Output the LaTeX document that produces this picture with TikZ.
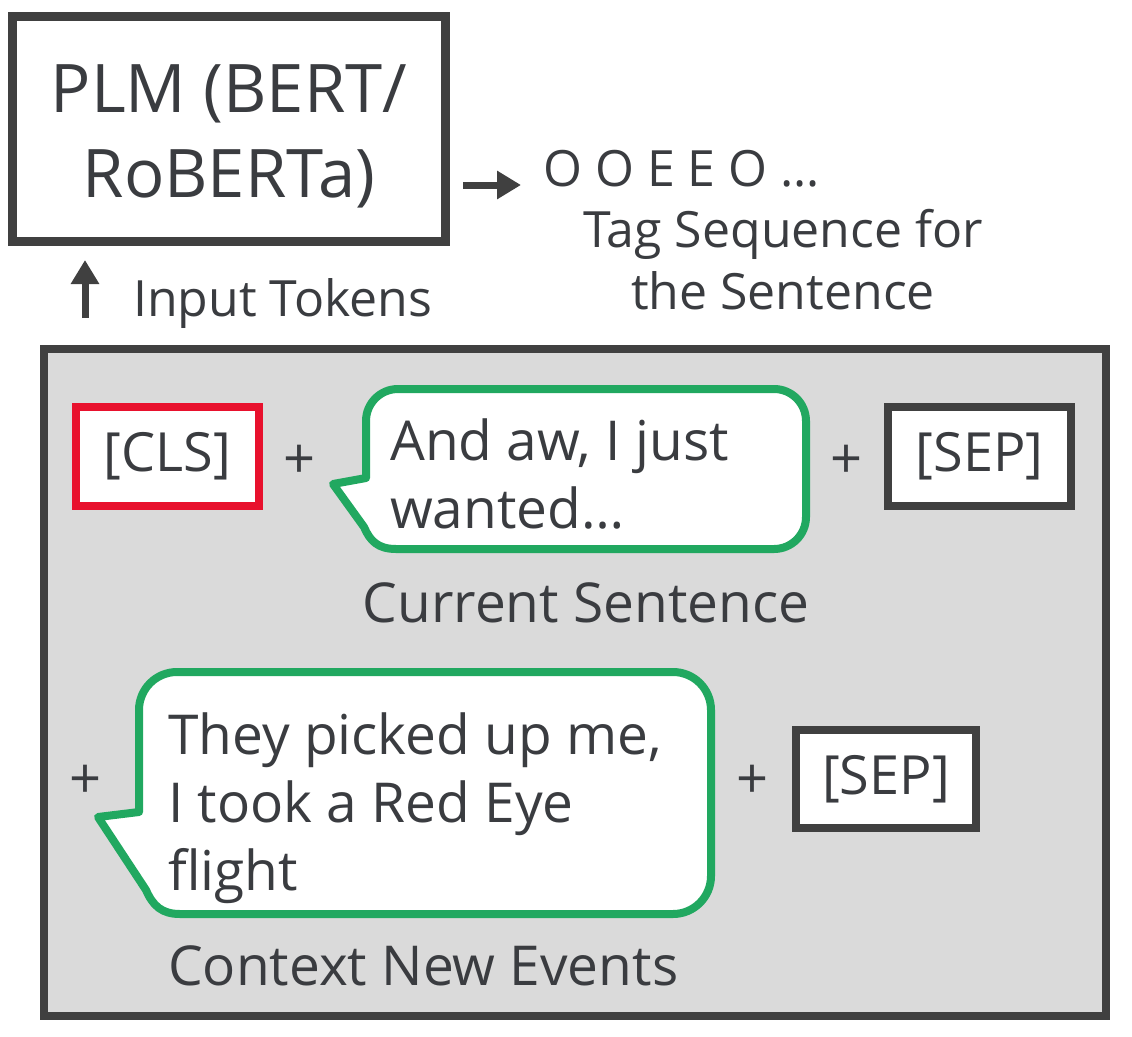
\documentclass[tikz,border=0pt]{standalone}
\usepackage{fontspec}
\setmainfont{Open Sans}
\usetikzlibrary{arrows.meta}
\definecolor{txt}{RGB}{58,60,64}
\definecolor{frame}{RGB}{64,64,64}
\definecolor{panel}{RGB}{218,218,218}
\definecolor{clsred}{RGB}{232,17,45}
\definecolor{bubgreen}{RGB}{33,168,96}
\begin{document}
\begin{tikzpicture}[x=1pt,y=-1pt,
  boxnode/.style={draw=frame, line width=8.5pt, fill=white, inner sep=0pt, text=txt},
  tokbox/.style={draw=frame, line width=8pt, fill=white, inner sep=0pt, text=txt,
    font=\fontsize{54}{64}\selectfont},
  bubble/.style={draw=bubgreen, fill=white, line width=8pt, line join=round},
  lbl/.style={text=txt, inner sep=0pt},
  fa/.style={font=\fontsize{50}{60}\selectfont},
  fp/.style={font=\fontsize{56}{66}\selectfont},
  fb/.style={font=\fontsize{55}{66}\selectfont},
  fc/.style={font=\fontsize{67}{80}\selectfont},
  thickarrow/.style={draw=frame, line width=7pt, -{Triangle[width=27pt,length=24pt]}}
]
\useasboundingbox (0,0) rectangle (1132,1036);
\fill[white] (0,0) rectangle (1132,1036);

% PLM box
\node[boxnode, minimum width=433pt, minimum height=225pt] (plm) at (229,129) {};
\node[lbl, fc, anchor=base] (plm1) at (229,112) {PLM (BERT/};
\node[lbl, fc, anchor=base] (plm2) at (229,197) {RoBERTa)};

% output arrow and tags
\coordinate (outS) at (463,185);
\coordinate (outE) at (521,185);
\draw[thickarrow] (outS) -- (outE);
\node[lbl, fa, anchor=base west] (tags) at (543,186) {O O E E O …};
\node[lbl, fa, anchor=base] (tag1) at (783,247) {Tag Sequence for};
\node[lbl, fa, anchor=base] (tag2) at (783,309) {the Sentence};

% input arrow
\coordinate (inS) at (85,318);
\coordinate (inE) at (85,260);
\draw[thickarrow] (inS) -- (inE);
\node[lbl, fa, anchor=base west] (inp) at (133,316) {Input Tokens};

% panel
\node[draw=frame, line width=8pt, fill=panel, minimum width=1062pt, minimum height=667pt, inner sep=0pt] (panel) at (575,682.5) {};

% row 1
\node[tokbox, draw=clsred, minimum width=183pt, minimum height=99pt] (cls) at (167.5,456.5) {[CLS]};
\node[lbl, fp] (p1) at (300,462) {+};
\draw[bubble] (366,478) -- (366,421) .. controls (366,403.3) and (380.3,389) .. (398,389)
  -- (774,389) .. controls (791.7,389) and (806,403.3) .. (806,421)
  -- (806,517) .. controls (806,534.7) and (791.7,549) .. (774,549)
  -- (396,549) .. controls (378,549) and (370,541) .. (364,527)
  -- (333,484) -- cycle;
\node[lbl, fb, anchor=base west] (cur1) at (390,460) {And aw, I just};
\node[lbl, fb, anchor=base west] (cur2) at (390,528) {wanted…};
\node[lbl, fb, anchor=base] (curlbl) at (586,622) {Current Sentence};
\node[lbl, fp] (p2) at (846,462) {+};
\node[tokbox, minimum width=183pt, minimum height=99pt] (sep1) at (979.5,456.5) {[SEP]};

% row 2
\node[lbl, fp] (p3) at (86,782) {+};
\draw[bubble] (139,812) -- (139,710) .. controls (139,689) and (156,672) .. (177,672)
  -- (673,672) .. controls (694,672) and (711,689) .. (711,710)
  -- (711,876) .. controls (711,897) and (694,914) .. (673,914)
  -- (180,914) .. controls (162,914) and (153,906) .. (146,890)
  -- (98,817) -- cycle;
\node[lbl, fb, anchor=base west] (ctx1) at (168,754) {They picked up me,};
\node[lbl, fb, anchor=base west] (ctx2) at (168,822) {I took a Red Eye};
\node[lbl, fb, anchor=base west] (ctx3) at (168,890) {flight};
\node[lbl, fb, anchor=base west] (ctxlbl) at (168,985) {Context New Events};
\node[lbl, fp] (p4) at (753,782) {+};
\node[tokbox, minimum width=180pt, minimum height=98pt] (sep2) at (886,779) {[SEP]};
\end{tikzpicture}
\end{document}
